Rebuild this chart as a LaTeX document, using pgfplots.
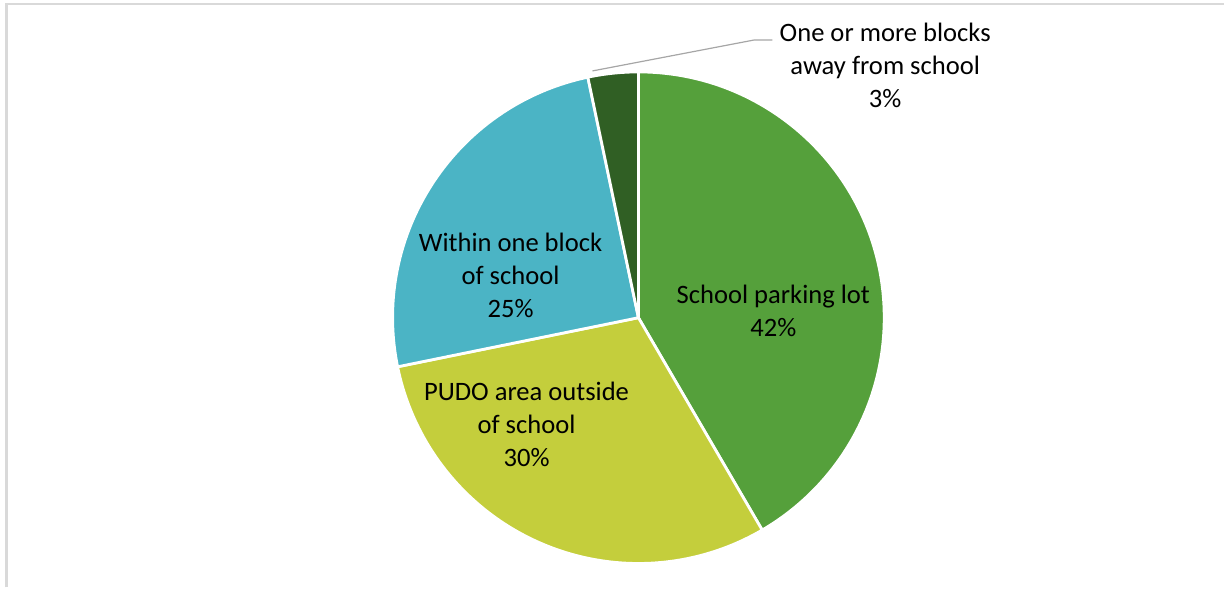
\documentclass[border=0pt]{standalone}
\usepackage{pgfplots}
\pgfplotsset{compat=1.18}
\usepackage{fontspec}
\setmainfont{Carlito}
\definecolor{cPark}{HTML}{55A03B}
\definecolor{cPudo}{HTML}{C4CE3C}
\definecolor{cWithin}{HTML}{4BB4C5}
\definecolor{cAway}{HTML}{305F24}
\definecolor{cBorder}{HTML}{D9D9D9}
\tikzset{lbl/.style={font=\fontsize{13.3}{16.5}\selectfont, align=center, text=black, inner sep=0pt}}
% slice: #1 cumulative start (%), #2 value (%), #3 colour
\newcommand\slice[3]{%
  \fill[#3, draw=white, line width=1.4pt, line join=round]
    (axis cs:639,270) -- ++({90-3.6*(#1)}:123pt)
    arc[start angle={90-3.6*(#1)}, end angle={90-3.6*((#1)+(#2))}, radius=123pt] -- cycle;}
\begin{document}
\begin{tikzpicture}
\begin{axis}[
  scale only axis, width=612.5pt, height=294pt,
  xmin=0, xmax=1225, ymin=0, ymax=588,
  hide axis, clip=false,
]
\path (axis cs:0,0) rectangle (axis cs:1225,588);
\draw[cBorder, line width=1.1pt] (axis cs:6.5,0) -- (axis cs:6.5,584) -- (axis cs:1225,584);
% values: School parking lot 41.6, PUDO 30.2, Within one block 24.9, One or more blocks 3.3
\slice{0}{41.6}{cPark}
\slice{41.6}{30.2}{cPudo}
\slice{71.8}{24.9}{cWithin}
\slice{96.7}{3.3}{cAway}
\draw[gray!70, line width=0.6pt] (axis cs:593,517) -- (axis cs:755,548) -- (axis cs:773,548);
\node[lbl] at (axis cs:774,277) {School parking lot\\42\%};
\node[lbl] at (axis cs:511,312) {Within one block\\of school\\25\%};
\node[lbl] at (axis cs:527,163) {PUDO area outside\\of school\\30\%};
\node[lbl] at (axis cs:886,523) {One or more blocks\\away from school\\3\%};
\end{axis}
\end{tikzpicture}
\end{document}
